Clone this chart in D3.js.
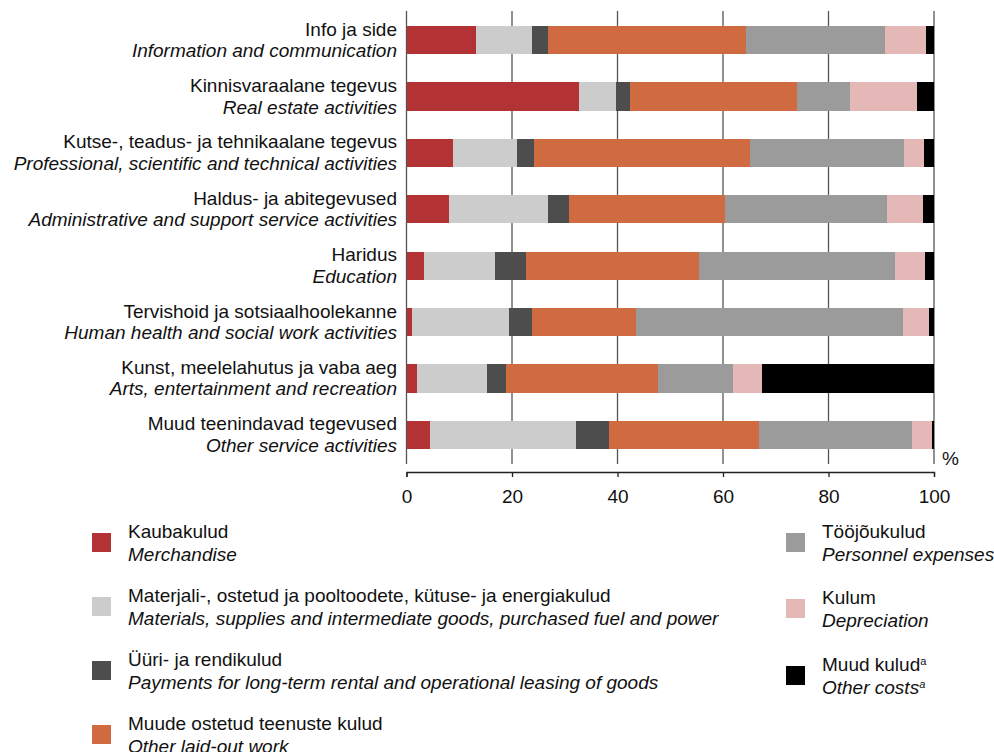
<!DOCTYPE html>
<html>
<head>
<meta charset="utf-8">
<script src="https://cdn.jsdelivr.net/npm/d3@7"></script>
<style>
  body { margin: 0; background: #fff; }
  svg { display: block; font-family: "Liberation Sans", Arial, sans-serif; }
</style>
</head>
<body>
<svg id="chart" width="994" height="752"></svg>
<script>
// ---- Data ----
const categoriesEt = [
  "Info ja side",
  "Kinnisvaraalane tegevus",
  "Kutse-, teadus- ja tehnikaalane tegevus",
  "Haldus- ja abitegevused",
  "Haridus",
  "Tervishoid ja sotsiaalhoolekanne",
  "Kunst, meelelahutus ja vaba aeg",
  "Muud teenindavad tegevused"
];
const categoriesEn = [
  "Information and communication",
  "Real estate activities",
  "Professional, scientific and technical activities",
  "Administrative and support service activities",
  "Education",
  "Human health and social work activities",
  "Arts, entertainment and recreation",
  "Other service activities"
];
const seriesEt = ["Kaubakulud", "Materjali-, ostetud ja pooltoodete, kütuse- ja energiakulud", "Üüri- ja rendikulud", "Muude ostetud teenuste kulud", "Tööjõukulud", "Kulum", "Muud kulud"];
const seriesEn = ["Merchandise", "Materials, supplies and intermediate goods, purchased fuel and power", "Payments for long-term rental and operational leasing of goods", "Other laid-out work", "Personnel expenses", "Depreciation", "Other costs"];
const seriesNote = ["", "", "", "", "", "", "a"];

const merchandise = [13.2, 32.7, 8.9, 8.1, 3.4, 1.1, 2.0, 4.5];
const materials   = [10.6, 7.0, 12.1, 18.8, 13.4, 18.4, 13.3, 27.7];
const rental      = [3.1, 2.7, 3.2, 4.0, 5.9, 4.3, 3.6, 6.1];
const laidOut     = [37.5, 31.6, 40.9, 29.4, 32.7, 19.7, 28.8, 28.5];
const personnel   = [26.3, 10.0, 29.2, 30.8, 37.3, 50.7, 14.2, 29.1];
const depreciation= [7.8, 12.7, 3.8, 6.8, 5.5, 4.8, 5.5, 3.8];
const otherCosts  = [1.5, 3.3, 1.9, 2.1, 1.8, 1.0, 32.6, 0.3];

const xTicks = [0, 20, 40, 60, 80, 100];
const colors = ["#B33335", "#CCCCCC", "#4D4D4D", "#D06A40", "#9B9B9B", "#E5B8B8", "#000000"];

const seriesValues = [merchandise, materials, rental, laidOut, personnel, depreciation, otherCosts];
const keys = seriesEt.map((d, i) => "s" + i);
const rows = categoriesEt.map((c, i) => {
  const r = { cat: c, en: categoriesEn[i] };
  keys.forEach((k, j) => r[k] = seriesValues[j][i]);
  return r;
});

// ---- Layout ----
const FS = 19;
const svg = d3.select("#chart");
const x = d3.scaleLinear().domain([0, 100]).range([406.5, 934]);
const gridTop = 11, gridBottom = 464;
const y = d3.scaleBand().domain(categoriesEt).range([gridTop, gridBottom]).paddingInner(0.5).paddingOuter(0.266);

// gridlines
svg.append("g").selectAll("line").data(xTicks).join("line")
  .attr("x1", d => x(d)).attr("x2", d => x(d))
  .attr("y1", gridTop).attr("y2", gridBottom)
  .attr("stroke", "#555").attr("stroke-width", 1.3);

// bars
const stack = d3.stack().keys(keys)(rows);
svg.append("g").selectAll("g").data(stack).join("g")
  .attr("fill", (d, i) => colors[i])
  .selectAll("rect").data(d => d).join("rect")
  .attr("x", d => x(d[0]))
  .attr("width", d => x(d[1]) - x(d[0]))
  .attr("y", d => y(d.data.cat))
  .attr("height", y.bandwidth())
  .attr("shape-rendering", "crispEdges");

// x axis
const axis = svg.append("g").attr("transform", "translate(0,472)")
  .call(d3.axisBottom(x).tickValues(xTicks).tickSize(5).tickPadding(12.8).tickFormat(d3.format("d")));
axis.select(".domain").attr("stroke", "#222").attr("stroke-width", 1.3);
axis.selectAll(".tick line").attr("stroke", "#222").attr("stroke-width", 1.3);
axis.selectAll("text").attr("font-size", FS).attr("fill", "#111").attr("font-family", "Liberation Sans, Arial, sans-serif");

svg.append("text").attr("x", 942).attr("y", 465).attr("font-size", FS).attr("fill", "#111").text("%");

// category labels
const labels = svg.append("g").selectAll("g").data(rows).join("g")
  .attr("transform", d => `translate(397,${y(d.cat) + y.bandwidth() / 2})`);
labels.append("text").attr("text-anchor", "end").attr("y", -4.5)
  .attr("font-size", FS).attr("fill", "#111").text(d => d.cat);
labels.append("text").attr("text-anchor", "end").attr("y", 17)
  .attr("font-size", FS).attr("font-style", "italic").attr("fill", "#111").text(d => d.en);

// legend
const legendPos = [
  { sx: 92, sy: 533 }, { sx: 92, sy: 597 }, { sx: 92, sy: 661 }, { sx: 92, sy: 725 },
  { sx: 786, sy: 533 }, { sx: 786, sy: 599 }, { sx: 786, sy: 666 }
];
const leg = svg.append("g").selectAll("g").data(seriesEt).join("g")
  .attr("transform", (d, i) => `translate(${legendPos[i].sx},${legendPos[i].sy})`);
leg.append("rect").attr("width", 19).attr("height", 19).attr("fill", (d, i) => colors[i]);
const t1 = leg.append("text").attr("x", 36).attr("y", 5).attr("font-size", FS).attr("fill", "#111");
t1.append("tspan").text(d => d);
t1.append("tspan").attr("font-size", 11).attr("dy", -6).text((d, i) => seriesNote[i]);
const t2 = leg.append("text").attr("x", 36).attr("y", 28).attr("font-size", FS).attr("font-style", "italic").attr("fill", "#111");
t2.append("tspan").text((d, i) => seriesEn[i]);
t2.append("tspan").attr("font-size", 11).attr("dy", -6).text((d, i) => seriesNote[i]);
</script>
</body>
</html>
